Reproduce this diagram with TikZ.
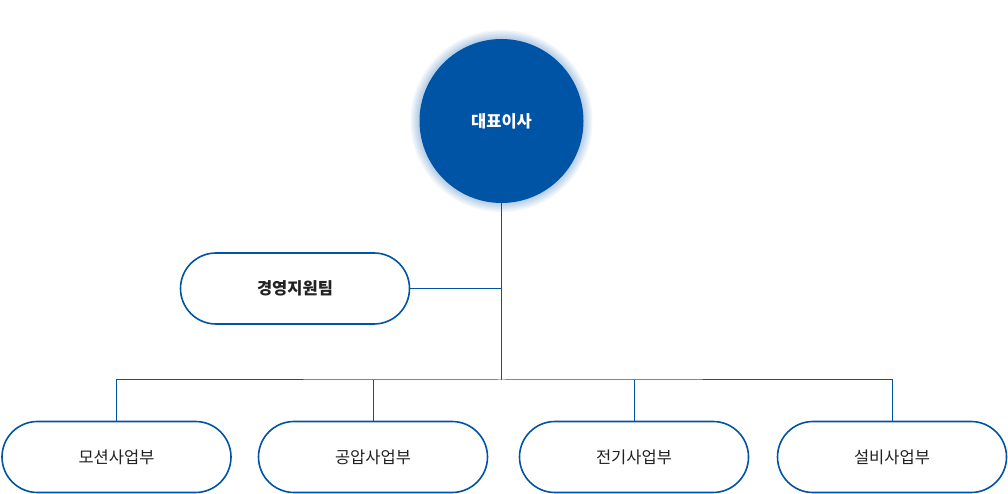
\documentclass[tikz,border=0pt]{standalone}
\usepackage{fontspec}
\setmainfont{Noto Sans CJK KR}
\definecolor{navy}{HTML}{0054A6}
\definecolor{txt}{HTML}{222222}
\begin{document}
\begin{tikzpicture}[x=1pt,y=1pt,
  pill/.style={draw=navy,line width=1.6pt,fill=white,rounded corners=35.5pt,minimum width=229pt,minimum height=71pt,inner sep=0pt,text=txt,font=\fontsize{16.5}{18}\selectfont},
  conn/.style={draw=navy,line width=1pt}]
\useasboundingbox (0,0) rectangle (1008,494);
% glow
\foreach \r in {91,89.5,88,86.5,85,83.5}{
  \fill[navy,opacity=0.05] (501.5,373) circle (\r);
}
\node[circle,fill=navy,minimum size=164pt,inner sep=0pt,text=white,font=\bfseries\fontsize{16.5}{18}\selectfont] (ceo) at (501.5,373) {대표이사};
\node[pill,font=\bfseries\fontsize{16.5}{18}\selectfont] (mgmt) at (295,205.5) {경영지원팀};
\node[pill] (b1) at (116.5,37) {모션사업부};
\node[pill] (b2) at (373,37) {공압사업부};
\node[pill] (b3) at (634,37) {전기사업부};
\node[pill] (b4) at (892,37) {설비사업부};
\coordinate (j1) at (501.5,205.5);
\coordinate (bus) at (501.5,114);
\draw[conn] (ceo.south) -- (bus);
\draw[conn] (mgmt.east) -- (j1);
\draw[conn] (b1.north) |- (bus) -| (b4.north);
\draw[conn] (b2.north) -- (b2.north |- bus);
\draw[conn] (b3.north) -- (b3.north |- bus);
\end{tikzpicture}
\end{document}
